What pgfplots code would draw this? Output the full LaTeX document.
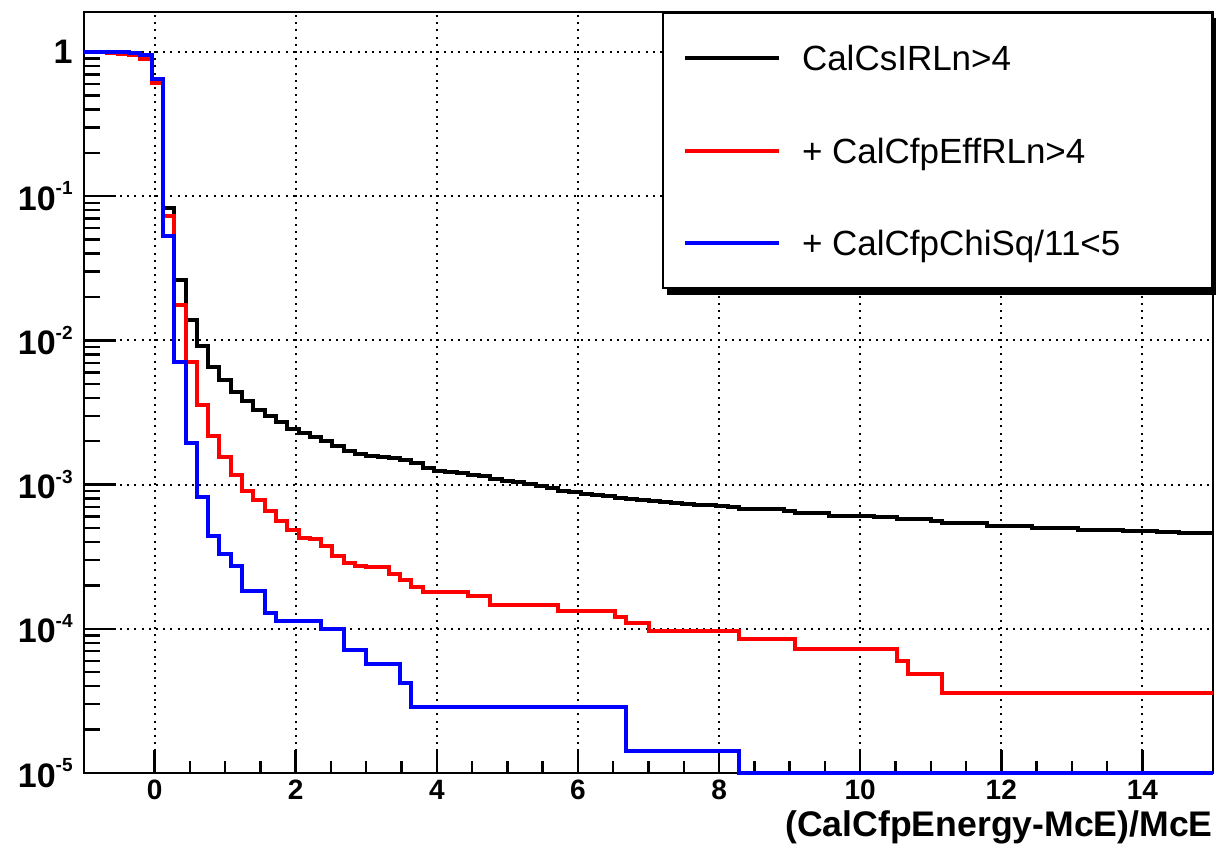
\documentclass[border=0pt]{standalone}
\usepackage{fontspec}
\setmainfont{Liberation Sans}
\usepackage{pgfplots}
\usepackage{pgfplotstable}
\pgfplotsset{compat=1.18}

\pgfplotstableread{
x y
-1.00 1.000
-0.84 0.995
-0.68 0.990
-0.52 0.975
-0.36 0.955
-0.20 0.890
-0.04 0.610
0.12 0.0835
0.28 0.0261
0.44 0.0139
0.60 0.0091
0.76 0.0065
0.92 0.0053
1.08 0.0044
1.24 0.0038
1.40 0.0033
1.56 0.0030
1.72 0.0027
1.88 0.00245
2.04 0.00228
2.20 0.00215
2.36 0.00200
2.52 0.00184
2.68 0.00171
2.84 0.00163
3.00 0.00158
3.16 0.00155
3.32 0.00152
3.48 0.00148
3.64 0.00141
3.80 0.00130
3.96 0.00125
4.12 0.00123
4.28 0.00120
4.44 0.00117
4.60 0.00114
4.76 0.00110
4.92 0.00106
5.08 0.00104
5.24 0.00101
5.40 0.00098
5.56 0.00095
5.72 0.00091
5.88 0.00089
6.04 0.00086
6.20 0.00085
6.36 0.00084
6.52 0.00081
6.68 0.00080
6.84 0.00078
7.00 0.00077
7.16 0.000755
7.32 0.00074
7.48 0.00073
7.64 0.000725
7.80 0.00072
7.96 0.000715
8.12 0.000696
8.28 0.000675
8.92 0.000653
9.08 0.000632
9.56 0.000606
10.20 0.000593
10.52 0.000574
11.00 0.000556
11.16 0.000545
11.80 0.000516
12.44 0.000497
13.08 0.000487
13.72 0.000480
14.20 0.000467
14.52 0.000459
15.00 0.000459
}\blacktab

\pgfplotstableread{
x y
-1.00 1.000
-0.84 0.995
-0.68 0.990
-0.52 0.975
-0.36 0.955
-0.20 0.890
-0.04 0.610
0.12 0.0726
0.28 0.0175
0.44 0.00707
0.60 0.00357
0.76 0.00219
0.92 0.00155
1.08 0.00117
1.24 0.000898
1.40 0.000787
1.56 0.000653
1.72 0.000562
1.88 0.000484
2.04 0.000426
2.20 0.000417
2.36 0.000377
2.52 0.000322
2.68 0.000286
2.84 0.000274
3.00 0.000267
3.32 0.000240
3.48 0.000218
3.64 0.000194
3.80 0.000181
4.44 0.000169
4.76 0.000147
5.72 0.000133
6.52 0.000120
6.68 0.000110
7.00 0.0000970
8.28 0.0000850
9.08 0.0000720
10.52 0.0000600
10.68 0.0000484
11.16 0.0000360
15.00 0.0000360
}\redtab

\pgfplotstableread{
x y
-1.00 1.000
-0.36 0.980
-0.20 0.950
-0.04 0.650
0.12 0.0527
0.28 0.00707
0.44 0.00195
0.60 0.00082
0.76 0.000443
0.92 0.000330
1.08 0.000271
1.24 0.000184
1.56 0.000128
1.72 0.000114
2.36 0.000100
2.68 0.0000710
3.00 0.0000570
3.48 0.0000420
3.64 0.0000287
6.68 0.0000143
8.28 0.0000100
15.00 0.0000100
}\bluetab

\newcommand{\ee}[1]{10\raisebox{0.45em}{\fontsize{9.5}{10}\selectfont\bfseries #1}}

\begin{document}
\begin{tikzpicture}
\begin{axis}[
  scale only axis,
  width=564.5pt, height=380.5pt,
  ymode=log,
  xmin=-1, xmax=15,
  ymin=1e-5, ymax=1.896,
  clip=false,
  axis line style={black, line width=1.4pt},
  tick pos=left,
  tick align=inside,
  every tick/.style={black, line width=1.2pt},
  major tick length=16pt,
  minor tick length=8pt,
  major x tick style={/pgfplots/major tick length=11.5pt},
  minor x tick style={/pgfplots/minor tick length=6pt},
  xtick={0,2,4,6,8,10,12,14},
  xticklabels={0,2,4,6,8,10,12,14},
  minor x tick num=3,
  ytick={1e-5,1e-4,1e-3,1e-2,1e-1,1},
  yticklabels={\ee{-5},\ee{-4},\ee{-3},\ee{-2},\ee{-1},1},
  xticklabel style={font=\fontsize{14}{16}\selectfont\bfseries},
  yticklabel style={font=\fontsize{17}{19}\selectfont\bfseries, inner sep=5.5pt},
  grid=major,
  major grid style={black, line width=1pt, dash pattern=on 1pt off 2.6pt},
  xlabel={(CalCfpEnergy-McE)/McE},
  xlabel style={at={(axis description cs:1,0)}, anchor=north east, yshift=-18.5pt, inner sep=0pt, font=\fontsize{17.8}{20}\selectfont\bfseries},
  legend style={
    name=leg,
    at={(rel axis cs:1,1)}, anchor=north east,
    draw=black, line width=1pt, fill=white,
    inner xsep=10pt, inner ysep=16.3pt,
    font=\fontsize{17.5}{20}\selectfont,
    row sep=33.75pt,
    nodes={inner sep=0pt, text height=12.5pt, text depth=0pt},
    /tikz/every odd column/.append style={column sep=10.5pt},
  },
  legend cell align=left,
  legend image code/.code={\draw[#1] (0pt,0pt) -- (47pt,0pt);},
]
\addplot[black, line width=2pt, const plot mark left, no markers] table[x=x,y=y] {\blacktab};
\addlegendentry{\makebox[195pt][l]{CalCsIRLn>4}}
\addplot[red, line width=2pt, const plot mark left, no markers] table[x=x,y=y] {\redtab};
\addlegendentry{\makebox[195pt][l]{+ CalCfpEffRLn>4}}
\addplot[blue, line width=2pt, const plot mark left, no markers] table[x=x,y=y] {\bluetab};
\addlegendentry{\makebox[195pt][l]{+ CalCfpChiSq/11<5}}
\end{axis}
\fill[black] ([shift={(2.5pt,-3pt)}]leg.south west) rectangle ([shift={(2pt,0pt)}]leg.south east);
\fill[black] ([shift={(0pt,-3pt)}]leg.north east) rectangle ([shift={(2pt,-3pt)}]leg.south east);
\pgfresetboundingbox
\path[use as bounding box] (-42pt,-41pt) rectangle (566pt,386.5pt);
\end{tikzpicture}
\end{document}
